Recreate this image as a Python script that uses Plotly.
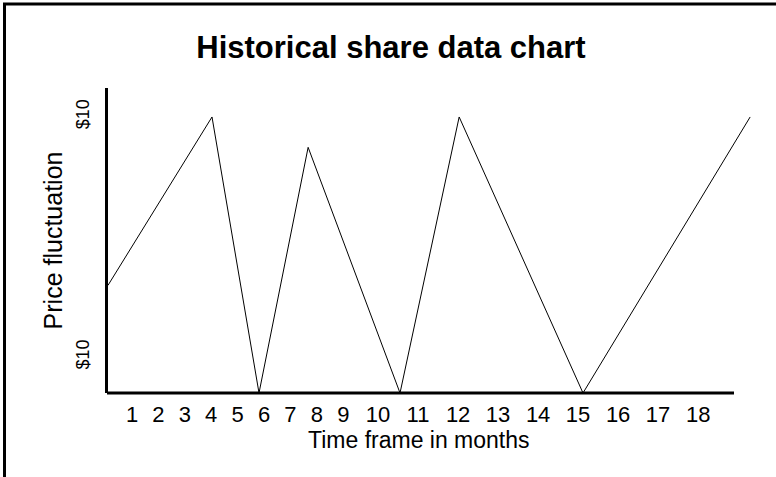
import plotly.graph_objects as go

# ---- data ----
months = [0.09, 4.03, 5.81, 7.67, 11.15, 13.39, 18.08, 24.41]
price = [3.9, 10.0, 0.0, 8.9, 0.0, 10.0, 0.0, 10.0]

x_tick_labels = ["1", "2", "3", "4", "5", "6", "7", "8", "9",
                 "10", "11", "12", "13", "14", "15", "16", "17", "18"]
x_tick_pos = [1, 2, 3, 4, 5, 6, 7, 8, 9,
              10.32, 11.83, 13.35, 14.86, 16.38, 17.89, 19.41, 20.92, 22.44]

y_tick_labels = ["$10", "$10"]
y_tick_pos = [10.0, 1.3]

x_title = "Time frame in months"
y_title = "Price fluctuation"
chart_title = "Historical share data chart"

FONT = "Liberation Sans, Arial, sans-serif"

W, H = 776, 477
L, R, T, B = 108, 24, 88, 84
pw, ph = W - L - R, H - T - B


def px_x(p):
    return (p - L) / pw


def px_y(p):
    return (H - B - p) / ph


fig = go.Figure()
fig.add_trace(go.Scatter(
    x=months, y=price, mode="lines",
    line=dict(color="black", width=1),
    showlegend=False, hoverinfo="skip",
))

fig.update_layout(
    width=W, height=H,
    margin=dict(l=L, r=R, t=T, b=B, autoexpand=False),
    paper_bgcolor="white", plot_bgcolor="white",
    title=dict(
        text="<b>" + chart_title + "</b>",
        x=391 / W, xref="container", xanchor="center",
        y=1 - 47 / H, yref="container", yanchor="middle",
        font=dict(family=FONT, size=31, color="black"),
    ),
    xaxis=dict(
        range=[0.091, 24.48],
        showline=False, showgrid=False, zeroline=False,
        tickmode="array", tickvals=x_tick_pos, ticktext=x_tick_labels,
        ticks="outside", ticklen=2, tickcolor="rgba(0,0,0,0)",
        tickfont=dict(family=FONT, size=22, color="black"),
    ),
    yaxis=dict(
        range=[0, 11.05],
        showline=True, linewidth=2.5, linecolor="black",
        showgrid=False, zeroline=False,
        tickmode="array", tickvals=y_tick_pos, ticktext=y_tick_labels,
        tickangle=-90,
        ticks="outside", ticklen=9, tickcolor="rgba(0,0,0,0)",
        tickfont=dict(family=FONT, size=18, color="black"),
        title=dict(text=y_title, standoff=4,
                   font=dict(family=FONT, size=25, color="black")),
    ),
    annotations=[
        dict(text=x_title, xref="paper", yref="paper",
             x=px_x(419), y=px_y(440), xanchor="center", yanchor="middle",
             showarrow=False,
             font=dict(family=FONT, size=23, color="black")),
    ],
    shapes=[
        dict(type="line", xref="paper", yref="paper",
             x0=px_x(107), x1=px_x(734), y0=0, y1=0,
             line=dict(color="black", width=3)),
        dict(type="rect", xref="paper", yref="paper",
             x0=px_x(4.5), x1=px_x(800), y0=px_y(500), y1=px_y(4),
             line=dict(color="black", width=3), fillcolor="rgba(0,0,0,0)",
             layer="above"),
    ],
)

fig.write_html(
    "out.html",
    config={"displayModeBar": False},
    post_script="document.body.style.margin='0px';document.body.style.overflow='hidden';",
)
